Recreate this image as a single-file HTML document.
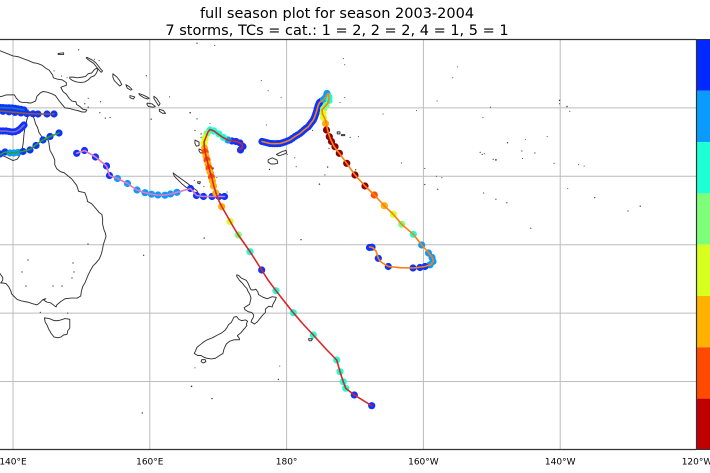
<!DOCTYPE html>
<html><head><meta charset="utf-8">
<style>
html,body{margin:0;padding:0;background:#fff;}
svg{display:block;}
text{font-family:"DejaVu Sans","Liberation Sans",sans-serif;fill:#000;}
.cl{fill:none;stroke:#333;stroke-width:0.95;stroke-linejoin:round;}
.is{fill:#3a3a3a;stroke:none;}
.b{fill:#0b34ff}.lb{fill:#0a9bff}.c{fill:#1dffd5}.g{fill:#7dff7a}.y{fill:#d8ff1e}.o{fill:#ffb000}.ro{fill:#ff4a00}.dr{fill:#8c0000}
.tr{fill:none;stroke-width:1.6;stroke-linejoin:round;stroke-linecap:round;}
</style></head><body>
<svg width="710" height="473" viewBox="0 0 710 473" xmlns="http://www.w3.org/2000/svg">
<rect width="710" height="473" fill="#fff"/>
<text x="337" y="18" font-size="14.5" text-anchor="middle">full season plot for season 2003-2004</text>
<text x="337" y="35" font-size="14.5" text-anchor="middle">7 storms, TCs = cat.: 1 = 2, 2 = 2, 4 = 1, 5 = 1</text>
<defs><clipPath id="c"><rect x="0" y="39.5" width="696" height="410"/></clipPath></defs>
<g clip-path="url(#c)">
<g stroke="#bcbcbc" stroke-width="1">
<line x1="13" y1="39" x2="13" y2="450"/><line x1="149.8" y1="39" x2="149.8" y2="450"/><line x1="286.6" y1="39" x2="286.6" y2="450"/><line x1="423.4" y1="39" x2="423.4" y2="450"/><line x1="560.2" y1="39" x2="560.2" y2="450"/>
<line x1="0" y1="107.9" x2="696" y2="107.9"/><line x1="0" y1="176.3" x2="696" y2="176.3"/><line x1="0" y1="244.7" x2="696" y2="244.7"/><line x1="0" y1="313.1" x2="696" y2="313.1"/><line x1="0" y1="381.5" x2="696" y2="381.5"/>
</g>
<g transform="matrix(6.84 0 0 6.84 -944.6 39.5)">
<g class="cl">
<path vector-effect="non-scaling-stroke" d="M138,16.75 L139.2,17.3 L140,17.7 L140.6,17.5 L140.9,17.1 L141.3,16.3 L141.5,15.1 L141.6,13.9 L141.7,13.2 L141.9,12.5 L142.0,11.8 L142.2,11.2 L142.5,10.7 L142.8,11.0 L143.1,11.6 L143.3,12.3 L143.6,12.9 L143.8,13.6 L144.2,14.2 L144.6,14.3 L145.2,14.8 L145.3,15.5 L145.4,16.2 L145.8,16.9 L146.1,17.6 L146.1,18.3 L146.4,18.9 L146.9,19.3 L147.5,19.5 L148.1,20.0 L148.6,20.4 L148.9,20.8 L149.3,21.3 L149.6,22.2 L150.1,22.3 L150.5,22.4 L150.8,23.2 L150.9,23.7 L151.5,24.0 L152.1,24.7 L152.6,25.3 L153.0,25.6 L153.1,26.2 L153.1,27.0 L153.3,27.8 L153.5,28.3 L153.6,28.8 L153.4,29.4 L153.2,30.0 L153.1,30.6 L152.9,31.4 L152.6,32.1 L152.2,32.6 L151.7,33.1 L151.3,33.8 L151.0,34.4 L150.8,34.9 L150.5,35.6 L150.2,36.1 L150.0,36.8 L149.9,37.5 L149.4,37.8 L148.5,37.8 L147.6,37.9 L147.0,38.3 L146.4,38.8 L146.3,39.1 L145.9,38.8 L145.5,38.5 L145.0,38.4 L144.8,38.3 L144.5,38.1 L144.8,37.9 L144.4,38.0 L143.9,38.5 L143.5,38.8 L142.8,38.6 L142.2,38.4 L141.6,38.3 L141.2,38.2 L140.6,38.0 L140.1,37.5 L139.8,37.2 L139.7,36.8 L139.4,36.2 L139.0,35.7 L138.6,35.6 L138.2,35.6 L138.5,35.2 L138.5,34.8 L138.3,34.5 L138.0,34.1"/>
<path vector-effect="non-scaling-stroke" d="M144.6,40.7 L145.3,40.8 L146.0,41.1 L146.6,41.1 L147.0,41.0 L147.6,40.8 L148.3,40.9 L148.3,41.6 L148.3,42.2 L148.0,42.6 L147.9,43.1 L147.4,43.2 L147.0,43.5 L146.6,43.6 L146.0,43.5 L145.6,43.0 L145.2,42.3 L145.0,41.8 L144.7,41.3 Z"/>
<path vector-effect="non-scaling-stroke" d="M138,1.6 L139,2.0 L140,2.4 L140.7,2.5 L141.5,2.8 L142.3,3.1 L143,3.4 L143.6,3.5 L144.3,3.8 L144.8,4.2 L145.3,4.5 L145.8,5.2 L145.9,5.6 L146.5,5.8 L147.2,5.9 L147.8,6.3 L147.8,6.7 L147.2,6.9 L147.0,7.0 L147.3,7.6 L147.8,8.0 L148.2,8.6 L148.6,9.0 L149.2,9.1 L149.3,9.5 L149.8,9.8 L150.2,10.2 L150.8,10.3 L150.6,10.6 L150.1,10.6 L149.5,10.4 L149.0,10.3 L148.3,10.1 L147.6,10.0 L147.1,9.4 L146.7,8.9 L146.2,8.2 L145.6,7.9 L145.0,7.7 L144.4,7.6 L144.0,7.8 L143.5,8.3 L143.3,9.0 L142.6,9.3 L142.0,9.2 L141.4,9.2 L141.0,9.1 L140.5,8.6 L140.2,8.1 L139.6,8.1 L139.0,8.1 L138.4,8.3 L138,8.4"/>
<path vector-effect="non-scaling-stroke" d="M148.3,5.5 L148.8,5.5 L149.4,5.6 L150.1,5.5 L150.6,5.4 L151.0,5.0 L151.5,4.9 L151.9,4.4 L152.2,4.2 L152.4,4.4 L152.2,4.9 L151.9,5.3 L151.4,5.5 L151.0,5.9 L150.5,6.2 L149.9,6.3 L149.3,6.2 L148.7,6.0 L148.3,5.7 Z"/>
<path vector-effect="non-scaling-stroke" d="M150.8,2.6 L151.6,3.0 L152.1,3.4 L152.5,3.9 L152.8,4.3 L153.1,4.6 L152.9,4.8 L152.6,4.5 L152.2,4.0 L151.8,3.5 L151.2,3.1 L150.7,2.7 Z"/>
<path vector-effect="non-scaling-stroke" d="M146.6,2.05 L147.4,1.95 L147.4,2.2 L146.6,2.2 Z"/>
<path vector-effect="non-scaling-stroke" d="M154.6,5.0 L155.2,5.5 L155.6,6.0 L155.9,6.6 L155.6,6.8 L155.2,6.4 L154.8,6.0 L154.6,5.5 Z"/>
<path vector-effect="non-scaling-stroke" d="M156.5,6.6 L157.0,6.9 L157.4,7.3 L157.2,7.4 L156.7,7.1 Z"/>
<path vector-effect="non-scaling-stroke" d="M158.4,7.9 L159.0,8.1 L159.6,8.4 L159.9,8.6 L159.7,8.7 L159.1,8.5 L158.5,8.1 Z"/>
<path vector-effect="non-scaling-stroke" d="M157.1,8.2 L157.8,8.4 L157.6,8.7 L157.1,8.5 Z"/>
<path vector-effect="non-scaling-stroke" d="M159.6,9.3 L160.3,9.4 L160.8,9.8 L160.5,9.9 L159.8,9.8 L159.6,9.5 Z"/>
<path vector-effect="non-scaling-stroke" d="M160.6,8.3 L161.0,8.6 L161.5,9.4 L161.3,9.7 L160.9,9.1 L160.6,8.6 Z"/>
<path vector-effect="non-scaling-stroke" d="M161.4,10.2 L162.0,10.4 L162.3,10.8 L161.9,10.8 L161.4,10.5 Z"/>
<path vector-effect="non-scaling-stroke" d="M166.6,14.7 L167.2,15.0 L167.2,15.5 L166.8,15.6 L166.6,15.2 Z"/>
<path vector-effect="non-scaling-stroke" d="M167.2,16.0 L167.6,16.2 L167.8,16.5 L167.4,16.6 L167.2,16.3 Z"/>
<path vector-effect="non-scaling-stroke" d="M168.2,17.6 L168.6,17.6 L168.5,17.8 L168.2,17.8 Z"/>
<path vector-effect="non-scaling-stroke" d="M169.0,18.7 L169.3,18.8 L169.2,19.0 L168.9,18.9 Z"/>
<path vector-effect="non-scaling-stroke" d="M168.1,15.6 L168.3,15.9 L168.2,16.0 L168.0,15.7 Z"/>
<path vector-effect="non-scaling-stroke" d="M163.4,19.5 L164.2,20.1 L164.9,20.6 L165.6,21.1 L166.2,21.6 L166.9,22.1 L167.0,22.4 L166.5,22.3 L166.0,22.0 L165.3,21.6 L164.7,21.1 L164.2,20.6 L163.6,20.0 Z"/>
<path vector-effect="non-scaling-stroke" d="M167.0,20.8 L167.4,20.8 L167.3,21.1 L167.0,21.0 Z"/>
<path vector-effect="non-scaling-stroke" d="M177.3,17.6 L177.9,17.3 L178.6,17.6 L178.7,18.1 L178.2,18.2 L177.7,18.2 L177.3,17.9 Z"/>
<path vector-effect="non-scaling-stroke" d="M178.5,16.8 L179.3,16.4 L179.9,16.2 L180.0,16.6 L179.5,16.8 L178.9,17.0 Z"/>
<path vector-effect="non-scaling-stroke" d="M187.4,13.5 L187.8,13.5 L187.8,13.8 L187.4,13.8 Z"/>
<path vector-effect="non-scaling-stroke" d="M188.0,13.9 L188.5,13.9 L188.5,14.05 L188.0,14.05 Z"/>
<path vector-effect="non-scaling-stroke" d="M172.7,34.4 L173.0,34.5 L173.4,34.9 L174.1,35.2 L174.4,35.7 L174.6,36.2 L174.8,36.6 L175.3,36.6 L175.5,36.5 L175.8,36.9 L175.9,37.3 L176.6,37.7 L177.2,37.9 L177.9,37.6 L178.5,37.7 L178.3,38.2 L178.0,38.7 L177.9,39.1 L177.4,39.0 L176.9,39.4 L176.9,39.9 L176.5,40.3 L176.1,40.8 L175.7,41.3 L175.3,41.6 L175.0,41.4 L174.8,41.3 L174.9,41.0 L175.1,40.7 L175.2,40.3 L174.9,39.9 L174.4,39.8 L173.9,39.5 L173.8,39.2 L174.3,38.9 L174.6,38.7 L174.7,38.2 L174.8,37.8 L174.6,37.2 L174.3,36.7 L174.2,36.4 L173.9,36.1 L173.5,35.6 L173.1,35.2 L172.7,34.6 Z"/>
<path vector-effect="non-scaling-stroke" d="M172.7,40.5 L173.0,40.9 L173.4,41.1 L174.0,41.0 L174.3,41.2 L174.1,41.6 L174.2,41.8 L173.9,42.2 L173.7,42.4 L173.3,42.9 L172.8,43.3 L173.1,43.7 L173.1,43.9 L172.6,43.9 L172.3,43.9 L171.7,44.1 L171.2,44.5 L171.0,44.9 L170.8,45.4 L170.7,45.9 L170.2,46.2 L169.6,46.6 L169.0,46.7 L168.3,46.6 L167.8,46.4 L167.5,46.2 L167.0,46.2 L166.5,45.9 L166.7,45.5 L166.9,45.0 L167.4,44.6 L167.9,44.2 L168.4,43.9 L169.2,43.6 L169.9,43.2 L170.5,42.9 L171.0,42.5 L171.3,42.1 L171.5,41.7 L171.9,41.4 L172.1,41.0 L172.3,40.6 Z"/>
<path vector-effect="non-scaling-stroke" d="M167.6,46.8 L168.1,46.8 L168.2,47.1 L167.8,47.3 L167.5,47.1 Z"/>
<path vector-effect="non-scaling-stroke" d="M183.2,43.75 L183.8,43.75 L183.6,44.05 L183.3,44.05 Z"/>
</g>
<g class="is">
<circle r="0.1" cx="159.1" cy="31.55"/><circle r="0.1" cx="167.95" cy="29.03"/><circle r="0.1" cx="158.9" cy="54.6"/><circle r="0.12" cx="166.1" cy="50.7"/><circle r="0.1" cx="169.1" cy="52.5"/><circle r="0.1" cx="178.8" cy="49.7"/><circle r="0.08" cx="179.0" cy="47.75"/><circle r="0.08" cx="166.6" cy="48.0"/><circle r="0.1" cx="182.1" cy="29.27"/>
<circle r="0.11" cx="184.8" cy="21.15"/><circle r="0.09" cx="185.6" cy="19.8"/><circle r="0.1" cx="186.0" cy="18.65"/><circle r="0.08" cx="186.2" cy="15.95"/><circle r="0.08" cx="183.8" cy="13.3"/><circle r="0.08" cx="181.9" cy="14.3"/><circle r="0.08" cx="177.05" cy="12.5"/><circle r="0.1" cx="190.1" cy="19.05"/><circle r="0.09" cx="189.3" cy="14.3"/><circle r="0.08" cx="190.5" cy="14.2"/>
<circle r="0.08" cx="187.8" cy="9.2"/><circle r="0.08" cx="188.5" cy="8.5"/><circle r="0.08" cx="179.2" cy="8.5"/><circle r="0.08" cx="176.3" cy="6.0"/><circle r="0.08" cx="177.3" cy="7.5"/><circle r="0.08" cx="188.5" cy="3.7"/><circle r="0.08" cx="188.3" cy="2.8"/>
<circle r="0.1" cx="200.2" cy="21.2"/><circle r="0.09" cx="202.1" cy="21.9"/><circle r="0.09" cx="200.2" cy="18.85"/><circle r="0.08" cx="201.9" cy="20.0"/><circle r="0.08" cx="202.7" cy="20.2"/><circle r="0.08" cx="196.8" cy="18.05"/><circle r="0.08" cx="194.1" cy="10.9"/><circle r="0.08" cx="199" cy="10.4"/><circle r="0.08" cx="202" cy="9.0"/>
<circle r="0.13" cx="210.6" cy="17.6"/><circle r="0.09" cx="210.2" cy="17.5"/><circle r="0.09" cx="208.6" cy="16.8"/><circle r="0.09" cx="208.3" cy="16.5"/><circle r="0.08" cx="208.9" cy="16.7"/><circle r="0.1" cx="212.3" cy="15.1"/><circle r="0.09" cx="214.4" cy="16.3"/><circle r="0.09" cx="216.3" cy="16.6"/><circle r="0.09" cx="219.1" cy="18.1"/><circle r="0.08" cx="214.5" cy="17.4"/><circle r="0.08" cx="221.1" cy="21.8"/><circle r="0.08" cx="214.9" cy="14.6"/><circle r="0.08" cx="223.5" cy="18.5"/><circle r="0.08" cx="222.7" cy="18.3"/><circle r="0.08" cx="218.1" cy="14.2"/>
<circle r="0.11" cx="219.9" cy="8.9"/><circle r="0.11" cx="221" cy="9.8"/><circle r="0.08" cx="219.9" cy="9.4"/><circle r="0.08" cx="221.4" cy="10.5"/><circle r="0.09" cx="210.6" cy="23.35"/><circle r="0.09" cx="208.8" cy="22.45"/><circle r="0.09" cx="212.2" cy="23.87"/><circle r="0.09" cx="215.7" cy="27.6"/><circle r="0.1" cx="225.05" cy="23.1"/><circle r="0.09" cx="229.9" cy="25.07"/><circle r="0.1" cx="231.7" cy="24.37"/>
<circle r="0.08" cx="205" cy="4.0"/><circle r="0.08" cx="204.3" cy="5.6"/><circle r="0.08" cx="209.8" cy="9.9"/><circle r="0.08" cx="208.7" cy="11.4"/><circle r="0.1" cx="166.9" cy="0.53"/><circle r="0.08" cx="169.5" cy="0.87"/>
<circle r="0.09" cx="159.5" cy="5.3"/><circle r="0.08" cx="162.9" cy="8.4"/><circle r="0.1" cx="160.2" cy="11.65"/><circle r="0.11" cx="165.9" cy="10.7"/><circle r="0.09" cx="166.9" cy="11.6"/><circle r="0.08" cx="168.8" cy="12.3"/><circle r="0.09" cx="166.6" cy="13.3"/><circle r="0.1" cx="167.5" cy="13.8"/><circle r="0.09" cx="167.5" cy="14.3"/><circle r="0.09" cx="168.1" cy="16.25"/><circle r="0.09" cx="168.2" cy="16.7"/><circle r="0.09" cx="169.3" cy="19.5"/><circle r="0.08" cx="169.8" cy="20.2"/><circle r="0.08" cx="167.9" cy="21.5"/><circle r="0.08" cx="166.5" cy="20.6"/><circle r="0.08" cx="167.5" cy="22.6"/><circle r="0.08" cx="171.3" cy="22.3"/>
<circle r="0.1" cx="150.5" cy="9.4"/><circle r="0.1" cx="151" cy="9.9"/><circle r="0.09" cx="152.8" cy="9.1"/><circle r="0.09" cx="152.7" cy="10.7"/><circle r="0.09" cx="153.5" cy="11.5"/><circle r="0.09" cx="154.2" cy="11.4"/><circle r="0.09" cx="149.6" cy="1.5"/><circle r="0.08" cx="152.6" cy="3.1"/><circle r="0.08" cx="151.9" cy="2.9"/><circle r="0.08" cx="147.9" cy="5.6"/><circle r="0.08" cx="146" cy="4.6"/><circle r="0.08" cx="147.1" cy="5.35"/><circle r="0.08" cx="142.2" cy="10.3"/><circle r="0.08" cx="142.2" cy="9.3"/><circle r="0.08" cx="151" cy="8.6"/>
<circle r="0.1" cx="177.5" cy="19.0"/><circle r="0.08" cx="181.2" cy="17.3"/><circle r="0.08" cx="181.4" cy="18.6"/><circle r="0.08" cx="180.1" cy="16.8"/><circle r="0.09" cx="148" cy="40"/><circle r="0.09" cx="144" cy="39.9"/>
</g>
</g>
<g fill="#555"><circle cx="28" cy="260" r="0.7"/><circle cx="22" cy="272" r="0.7"/><circle cx="26" cy="286" r="0.7"/><circle cx="53" cy="286" r="0.7"/><circle cx="62" cy="286" r="0.7"/><circle cx="73" cy="263" r="0.7"/><circle cx="74" cy="272" r="0.7"/><circle cx="72" cy="278" r="0.7"/><circle cx="88" cy="244" r="0.7"/></g>

<g>
<g class="b"><circle cx="0" cy="107.5" r="3.6"/><circle cx="3" cy="107.6" r="3.6"/><circle cx="6" cy="107.8" r="3.6"/><circle cx="9" cy="107.9" r="3.6"/><circle cx="12" cy="108" r="3.6"/><circle cx="15" cy="108.4" r="3.6"/><circle cx="18" cy="108.9" r="3.6"/><circle cx="21" cy="109.4" r="3.6"/><circle cx="24" cy="110" r="3.6"/></g>
<g class="b"><circle cx="3" cy="111.3" r="3.6"/><circle cx="9" cy="111.8" r="3.6"/><circle cx="15" cy="112.4" r="3.6"/><circle cx="21" cy="112.9" r="3.6"/><circle cx="27" cy="113.6" r="3.6"/><circle cx="33" cy="113.8" r="3.6"/><circle cx="38" cy="114" r="3.6"/><circle cx="47" cy="114" r="3.6"/><circle cx="54" cy="114" r="3.6"/></g>
<g class="b"><circle cx="0" cy="131" r="3.6"/><circle cx="3" cy="131" r="3.6"/><circle cx="6" cy="131" r="3.6"/><circle cx="9" cy="131.5" r="3.6"/><circle cx="12" cy="132" r="3.6"/><circle cx="15" cy="131.7" r="3.6"/><circle cx="18" cy="130.5" r="3.6"/><circle cx="20.5" cy="128.5" r="3.6"/><circle cx="22.5" cy="126.5" r="3.6"/><circle cx="24" cy="125" r="3.6"/></g>
<circle class="b" cx="0" cy="154" r="3.6"/><circle class="b" cx="5" cy="152" r="3.6"/><circle class="lb" cx="10" cy="153" r="3.6"/><circle class="lb" cx="14" cy="153" r="3.6"/><circle class="lb" cx="18" cy="152.5" r="3.6"/><circle class="b" cx="23" cy="151.5" r="3.6"/><circle class="b" cx="30" cy="150" r="3.6"/><circle class="b" cx="36" cy="145.5" r="3.6"/><circle class="b" cx="43" cy="140" r="3.6"/><circle class="b" cx="50" cy="136.5" r="3.6"/><circle class="b" cx="59" cy="133" r="3.6"/>
<circle class="b" cx="76.7" cy="153.3" r="3.6"/><circle class="b" cx="84.5" cy="150.5" r="3.6"/><circle class="b" cx="95.5" cy="157" r="3.6"/><circle class="b" cx="106.5" cy="166" r="3.6"/><circle class="b" cx="109.5" cy="175.5" r="3.6"/><circle class="lb" cx="117.5" cy="178.5" r="3.6"/><circle class="lb" cx="127.5" cy="183.5" r="3.6"/><circle class="lb" cx="137" cy="190" r="3.6"/><circle class="lb" cx="145" cy="192.7" r="3.6"/><circle class="lb" cx="151.5" cy="194.2" r="3.6"/><circle class="lb" cx="158" cy="195" r="3.6"/><circle class="lb" cx="165" cy="195.2" r="3.6"/><circle class="lb" cx="170.5" cy="194" r="3.6"/><circle class="lb" cx="177" cy="192.3" r="3.6"/><circle class="b" cx="190.5" cy="188.5" r="3.6"/><circle class="b" cx="196.5" cy="195.5" r="3.6"/><circle class="b" cx="203.5" cy="196.5" r="3.6"/><circle class="b" cx="212" cy="196.5" r="3.6"/><circle class="b" cx="219" cy="196.5" r="3.6"/><circle class="b" cx="224.5" cy="196.5" r="3.6"/>
<circle class="b" cx="240.5" cy="150" r="3.6"/><circle class="b" cx="243" cy="146.5" r="3.6"/><circle class="b" cx="240" cy="143" r="3.6"/><circle class="b" cx="236" cy="141.5" r="3.6"/><circle class="b" cx="232" cy="141" r="3.6"/><circle class="lb" cx="228" cy="140" r="3.6"/><circle class="c" cx="223.5" cy="137.5" r="3.6"/><circle class="c" cx="219" cy="134" r="3.6"/><circle class="c" cx="214" cy="131" r="3.6"/><circle class="c" cx="210" cy="130" r="3.6"/><circle class="g" cx="207" cy="133.5" r="3.6"/><circle class="y" cx="205" cy="138.5" r="3.6"/><circle class="y" cx="204" cy="143" r="3.6"/><circle class="o" cx="204.5" cy="148" r="3.6"/><circle class="ro" cx="205.2" cy="152" r="3.6"/><circle class="o" cx="206" cy="156" r="3.6"/><circle class="ro" cx="207" cy="160" r="3.6"/><circle class="o" cx="208" cy="164" r="3.6"/><circle class="ro" cx="209" cy="168" r="3.6"/><circle class="o" cx="210" cy="172" r="3.6"/><circle class="ro" cx="211.5" cy="177" r="3.6"/><circle class="o" cx="212.5" cy="181" r="3.6"/><circle class="o" cx="213.5" cy="186" r="3.6"/><circle class="o" cx="215.8" cy="193" r="3.6"/><circle class="o" cx="221.7" cy="206.7" r="3.6"/><circle class="y" cx="230" cy="221.5" r="3.6"/><circle class="g" cx="238.3" cy="235" r="3.6"/><circle class="c" cx="250" cy="251.7" r="3.6"/><circle class="b" cx="261.7" cy="270" r="3.6"/><circle class="c" cx="276" cy="290.7" r="3.6"/><circle class="c" cx="293.3" cy="312.7" r="3.6"/><circle class="c" cx="313.3" cy="335" r="3.6"/><circle class="c" cx="336.7" cy="360" r="3.6"/><circle class="c" cx="340" cy="371.7" r="3.6"/><circle class="c" cx="343.3" cy="381.7" r="3.6"/><circle class="c" cx="345.7" cy="388.3" r="3.6"/><circle class="b" cx="354.3" cy="395" r="3.6"/><circle class="b" cx="371.7" cy="405.7" r="3.6"/>
<g class="b"><circle cx="262" cy="141.5" r="3.6"/><circle cx="264" cy="142" r="3.6"/><circle cx="266" cy="142.5" r="3.6"/><circle cx="268" cy="143" r="3.6"/><circle cx="270" cy="143.5" r="3.6"/><circle cx="272.5" cy="143.6" r="3.6"/><circle cx="275" cy="143.7" r="3.6"/><circle cx="277.5" cy="143.6" r="3.6"/><circle cx="280" cy="143.5" r="3.6"/><circle cx="282.5" cy="142.8" r="3.6"/><circle cx="285" cy="142" r="3.6"/><circle cx="287.5" cy="141" r="3.6"/><circle cx="290" cy="140" r="3.6"/><circle cx="292.5" cy="138.3" r="3.6"/><circle cx="295" cy="136.5" r="3.6"/><circle cx="297.5" cy="135" r="3.6"/><circle cx="300" cy="133.5" r="3.6"/><circle cx="302" cy="131.8" r="3.6"/><circle cx="304" cy="130" r="3.6"/><circle cx="306" cy="128.3" r="3.6"/><circle cx="308.3" cy="126.7" r="3.6"/><circle cx="309.7" cy="124.8" r="3.6"/><circle cx="311" cy="123" r="3.6"/><circle cx="312.2" cy="121.5" r="3.6"/><circle cx="313.3" cy="120" r="3.6"/><circle cx="314.2" cy="118" r="3.6"/><circle cx="315" cy="116" r="3.6"/><circle cx="315.8" cy="113.8" r="3.6"/><circle cx="316.5" cy="111.5" r="3.6"/><circle cx="317.2" cy="108.8" r="3.6"/><circle cx="318" cy="106" r="3.6"/><circle cx="318.8" cy="104.2" r="3.6"/><circle cx="319.5" cy="102.5" r="3.6"/><circle cx="321.4" cy="101.2" r="3.6"/></g>
<circle class="lb" cx="323.5" cy="99.5" r="3.6"/><circle class="lb" cx="326" cy="96.5" r="3.6"/><circle class="lb" cx="327" cy="93.5" r="3.6"/><circle class="c" cx="329" cy="97" r="3.6"/><circle class="c" cx="329" cy="100.5" r="3.6"/><circle class="g" cx="326" cy="105.5" r="3.6"/><circle class="g" cx="323.5" cy="109" r="3.6"/><circle class="y" cx="323" cy="113" r="3.6"/><circle class="y" cx="323.5" cy="117.5" r="3.6"/><circle class="o" cx="325.5" cy="123.5" r="3.6"/>
<circle class="dr" cx="326.5" cy="130" r="3.6"/><circle class="dr" cx="329.3" cy="136.7" r="3.6"/><circle class="dr" cx="331.5" cy="141.5" r="3.6"/><circle class="dr" cx="335" cy="146.7" r="3.6"/><circle class="dr" cx="339.3" cy="153.3" r="3.6"/><circle class="dr" cx="346.7" cy="163.3" r="3.6"/><circle class="dr" cx="355" cy="175" r="3.6"/><circle class="dr" cx="365" cy="186" r="3.6"/><circle class="ro" cx="374.3" cy="195" r="3.6"/><circle class="o" cx="384.3" cy="205.7" r="3.6"/><circle class="y" cx="393.3" cy="214.3" r="3.6"/><circle class="g" cx="401.7" cy="224.3" r="3.6"/><circle class="c" cx="413.3" cy="234.3" r="3.6"/><circle class="lb" cx="421.7" cy="245" r="3.6"/><circle class="lb" cx="428.5" cy="253" r="3.6"/><circle class="lb" cx="432" cy="257.5" r="3.6"/><circle class="lb" cx="433" cy="261.5" r="3.6"/><circle class="lb" cx="430" cy="264.8" r="3.6"/><circle class="b" cx="425" cy="266.5" r="3.6"/><circle class="b" cx="420" cy="267.5" r="3.6"/><circle class="b" cx="413" cy="268" r="3.6"/><circle class="b" cx="388.3" cy="266.5" r="3.6"/><circle class="b" cx="378.3" cy="258.3" r="3.6"/><circle class="b" cx="372" cy="247.2" r="3.6"/><circle class="b" cx="369.5" cy="247.5" r="3.6"/>
</g>

<polyline class="tr" stroke="#1f77b4" points="0,107.5 6,107.8 12,108 18,108.9 24,110"/>
<polyline class="tr" stroke="#8c564b" points="0,111 9,111.8 18,112.7 27,113.6 38,114 54,114"/>
<polyline class="tr" stroke="#9467bd" points="0,131 6,131 12,132 16,131.5 20,129 23,126 24,125"/>
<polyline class="tr" stroke="#2ca02c" points="0,155 5,152 10,153 15,152.7 22,151.5 30,149.5 35,145.5 42,140.5 50,136.5 59,133"/>
<polyline class="tr" stroke="#e377c2" points="76.7,153.3 84.5,150.5 95.5,157 106.5,166 109.5,175.5 117.5,178.5 127.5,183.5 137,190 145,192.7 151.5,194.2 158,195 165,195.2 170.5,194 177,192.3 190.5,188.5 196.5,195.5 203.5,196.5 212,196.5 219,196.5 224.5,196.5"/>
<polyline class="tr" stroke="#d62728" points="239.5,149.5 242.5,147.5 242,144 238,142 233,141 228,140 223,137.5 218,134 214,131 210,129.5 208,132 206,137 204,142 204.5,148 205.5,154 207,160 208.5,166 210,172 212,178 213.5,185 216,193 219,201 222,207 226,214 230,221 234,228 238.3,235 244,243 250,251.7 256,261 261.7,270 268,280 276,290.7 284,301 293.3,312.7 303,324 313.3,335 325,348 336.7,360 340,371.7 343.3,381.7 345.7,388.3 354.3,395 371.7,405.7"/>
<polyline class="tr" stroke="#ff7f0e" points="262,141.5 266,142.5 270,143.5 275,143.7 280,143.5 285,142 290,140 295,136.5 300,133.5 304,130 308.3,126.7 311,123 313.3,120 315,116 316.5,111.5 318,106 319.5,102.5 323.3,100 326,97 327,94.5 328,93.5 329,96 329,99 328,103 325,106.5 322,110 322.5,114 325,119 326.5,124 327.5,130 330,138 334,146.5 339.5,153.5 346.7,163.3 355,175 365,186 374.3,195 384.3,205.7 393.3,214.3 401.7,224.3 413.3,234.3 421.7,245 428,252 432,257 433.5,261 431,264.5 425,266.5 418,267.5 413,268 400,267.7 388.3,266.5 381,262 378.3,258.3 376,251 372.5,247.5 369.5,247"/>
</g>

<line x1="0" y1="39.5" x2="696" y2="39.5" stroke="#333" stroke-width="1.2"/>
<line x1="0" y1="449.5" x2="696" y2="449.5" stroke="#333" stroke-width="1.2"/>

<rect x="696" y="39.5" width="14" height="51.3" fill="#0028ff"/>
<rect x="696" y="90.8" width="14" height="51.3" fill="#0a9bff"/>
<rect x="696" y="142.1" width="14" height="51.3" fill="#1dffd5"/>
<rect x="696" y="193.4" width="14" height="51.3" fill="#7dff7a"/>
<rect x="696" y="244.7" width="14" height="51.3" fill="#d8ff1e"/>
<rect x="696" y="296" width="14" height="51.3" fill="#ffb000"/>
<rect x="696" y="347.3" width="14" height="51.3" fill="#ff4a00"/>
<rect x="696" y="398.6" width="14" height="50.9" fill="#c00000"/>
<line x1="696.5" y1="39" x2="696.5" y2="450" stroke="#333" stroke-width="1.2"/>
<line x1="696" y1="39.5" x2="710" y2="39.5" stroke="#333" stroke-width="1"/>
<line x1="696" y1="449.5" x2="710" y2="449.5" stroke="#333" stroke-width="1"/>

<g font-size="9" text-anchor="middle">
<text x="13" y="464.5">140°E</text>
<text x="149.8" y="464.5">160°E</text>
<text x="286.6" y="464.5">180°</text>
<text x="423.4" y="464.5">160°W</text>
<text x="560.2" y="464.5">140°W</text>
<text x="697" y="464.5">120°W</text>
</g>
</svg>
</body></html>
